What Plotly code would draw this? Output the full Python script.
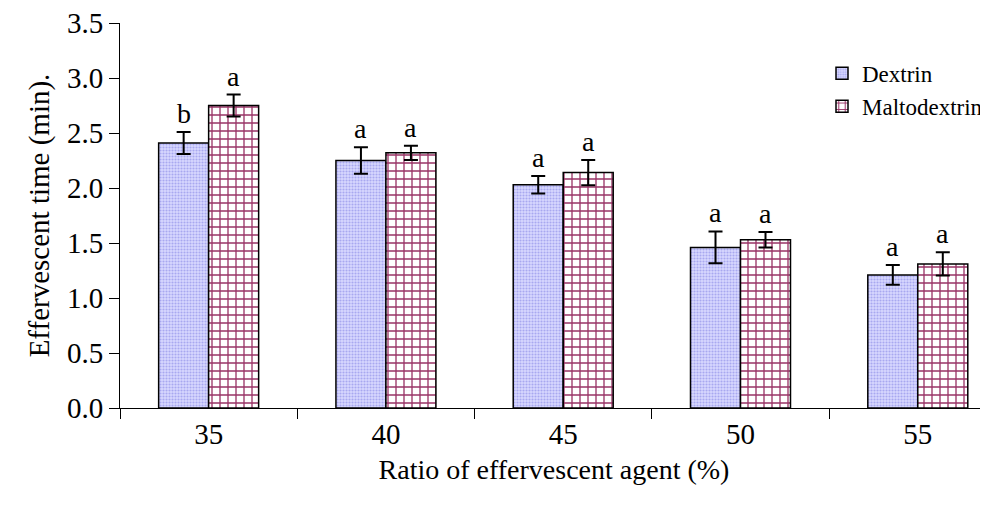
import plotly.graph_objects as go

categories = ["35", "40", "45", "50", "55"]
dextrin = [2.41, 2.25, 2.03, 1.46, 1.21]
dextrin_err = [0.10, 0.12, 0.08, 0.145, 0.09]
malto = [2.75, 2.32, 2.14, 1.53, 1.31]
malto_err = [0.10, 0.065, 0.115, 0.07, 0.105]
dextrin_letters = ["b", "a", "a", "a", "a"]
malto_letters = ["a", "a", "a", "a", "a"]
y_ticks = [0.0, 0.5, 1.0, 1.5, 2.0, 2.5, 3.0, 3.5]

FONT = "Liberation Serif, Times New Roman, serif"

fig = go.Figure()
fig.add_trace(go.Bar(
    name="Dextrin", x=categories, y=dextrin,
    error_y=dict(type="data", array=dextrin_err, color="black", thickness=2, width=7),
    marker=dict(color="#cfcffb", line=dict(color="black", width=1.5),
                pattern=dict(shape=".", size=3, solidity=0.4, fgcolor="#a8a8f0", bgcolor="#d8d8ff", fillmode="replace")),
))
fig.add_trace(go.Bar(
    name="Maltodextrin", x=categories, y=malto,
    error_y=dict(type="data", array=malto_err, color="black", thickness=2, width=7),
    marker=dict(color="white", line=dict(color="black", width=1.5),
                pattern=dict(shape="+", size=8, solidity=0.3, fgcolor="#993366", bgcolor="white", fillmode="replace")),
))

for i, c in enumerate(categories):
    fig.add_annotation(x=i, y=dextrin[i] + dextrin_err[i], text=dextrin_letters[i],
                       showarrow=False, yanchor="bottom", xshift=-25, yshift=1,
                       font=dict(family=FONT, size=28, color="black"))
    fig.add_annotation(x=i, y=malto[i] + malto_err[i], text=malto_letters[i],
                       showarrow=False, yanchor="bottom", xshift=25, yshift=1,
                       font=dict(family=FONT, size=28, color="black"))

fig.update_layout(
    width=980, height=507,
    margin=dict(l=112, r=0, t=15, b=107, autoexpand=False),
    paper_bgcolor="white", plot_bgcolor="white",
    barmode="group", bargap=0.436, bargroupgap=0,
    font=dict(family=FONT, color="black"),
    showlegend=True,
    legend=dict(x=1.0, y=0.925, xanchor="right", yanchor="top",
                font=dict(family=FONT, size=23, color="black"),
                bgcolor="rgba(0,0,0,0)", itemwidth=30),
    xaxis=dict(type="category", range=[-0.5, 4.396], showline=True, linecolor="black", linewidth=1,
               ticks="outside", tickson="boundaries", ticklen=10, tickcolor="black",
               tickfont=dict(family=FONT, size=29), showgrid=False,
               title=dict(text="Ratio of effervescent agent (%)", font=dict(family=FONT, size=28), standoff=10)),
    yaxis=dict(range=[0, 3.5], tickvals=y_ticks, tickformat=".1f", showline=True, linecolor="black", linewidth=1,
               ticks="outside", ticklen=10, tickcolor="black", showgrid=False, zeroline=False,
               ticklabeloverflow="allow",
               tickfont=dict(family=FONT, size=29),
               title=dict(text="Effervescent time (min).", font=dict(family=FONT, size=29), standoff=8)),
)

fig.write_html("out.html")
